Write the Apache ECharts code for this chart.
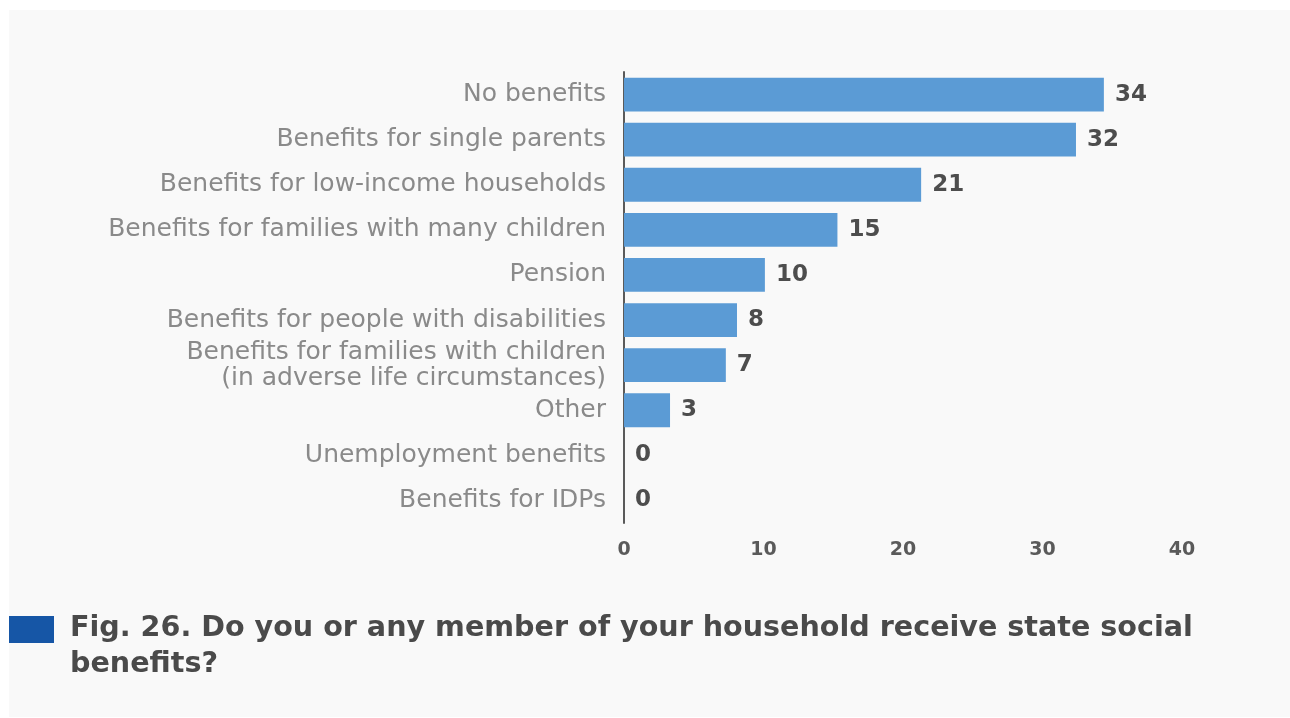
<!DOCTYPE html>
<html>
<head>
<meta charset="utf-8">
<script src="https://cdn.jsdelivr.net/npm/echarts@6/dist/echarts.min.js"></script>
<style>
html,body{margin:0;padding:0;background:#ffffff;}
#chart{width:1290px;height:718px;}
</style>
</head>
<body>
<div id="chart"></div>
<script>
const categories = [
  "No benefits",
  "Benefits for single parents",
  "Benefits for low-income households",
  "Benefits for families with many children",
  "Pension",
  "Benefits for people with disabilities",
  "Benefits for families with children\n(in adverse life circumstances)",
  "Other",
  "Unemployment benefits",
  "Benefits for IDPs"
];
const values = [34.4, 32.4, 21.3, 15.3, 10.1, 8.1, 7.3, 3.3, 0, 0];
const xTicks = [0, 10, 20, 30, 40];
const titleText = "Fig. 26. Do you or any member of your household receive state social\nbenefits?";

const chart = echarts.init(document.getElementById('chart'), null, {renderer: 'canvas'});
chart.setOption({
  backgroundColor: '#ffffff',
  animation: false,
  graphic: [
    {type: 'rect', z: -10, shape: {x: 9, y: 10, width: 1281, height: 707}, style: {fill: '#f9f9f9'}},
    {type: 'rect', shape: {x: 9, y: 616, width: 45, height: 27}, style: {fill: '#1656a6'}},
    {type: 'text', left: 70, top: 611, style: {text: titleText, font: 'bold 28.6px "DejaVu Sans"', fill: '#4a4a4a', lineHeight: 36}}
  ],
  grid: {left: 624, top: 72, width: 558, height: 451, containLabel: false},
  xAxis: {
    type: 'value', min: xTicks[0], max: xTicks[xTicks.length - 1], interval: 10,
    axisLine: {show: false}, axisTick: {show: false}, splitLine: {show: false},
    axisLabel: {margin: 18, color: '#5a5a5a', fontWeight: 'bold', fontSize: 19, fontFamily: 'DejaVu Sans'}
  },
  yAxis: {
    type: 'category', data: categories, inverse: true,
    axisLine: {show: true, lineStyle: {color: '#5a5a5a', width: 2}},
    axisTick: {show: false},
    axisLabel: {margin: 18, color: '#8a8a8a', fontSize: 25, fontFamily: 'DejaVu Sans', lineHeight: 26, align: 'right'}
  },
  series: [{
    type: 'bar', data: values, barCategoryGap: '25%',
    itemStyle: {color: '#5b9bd5'},
    label: {
      show: true, position: 'right', distance: 11,
      formatter: p => Math.round(p.value),
      color: '#4d4d4d', fontWeight: 'bold', fontSize: 23, fontFamily: 'DejaVu Sans'
    }
  }]
});
</script>
</body>
</html>
